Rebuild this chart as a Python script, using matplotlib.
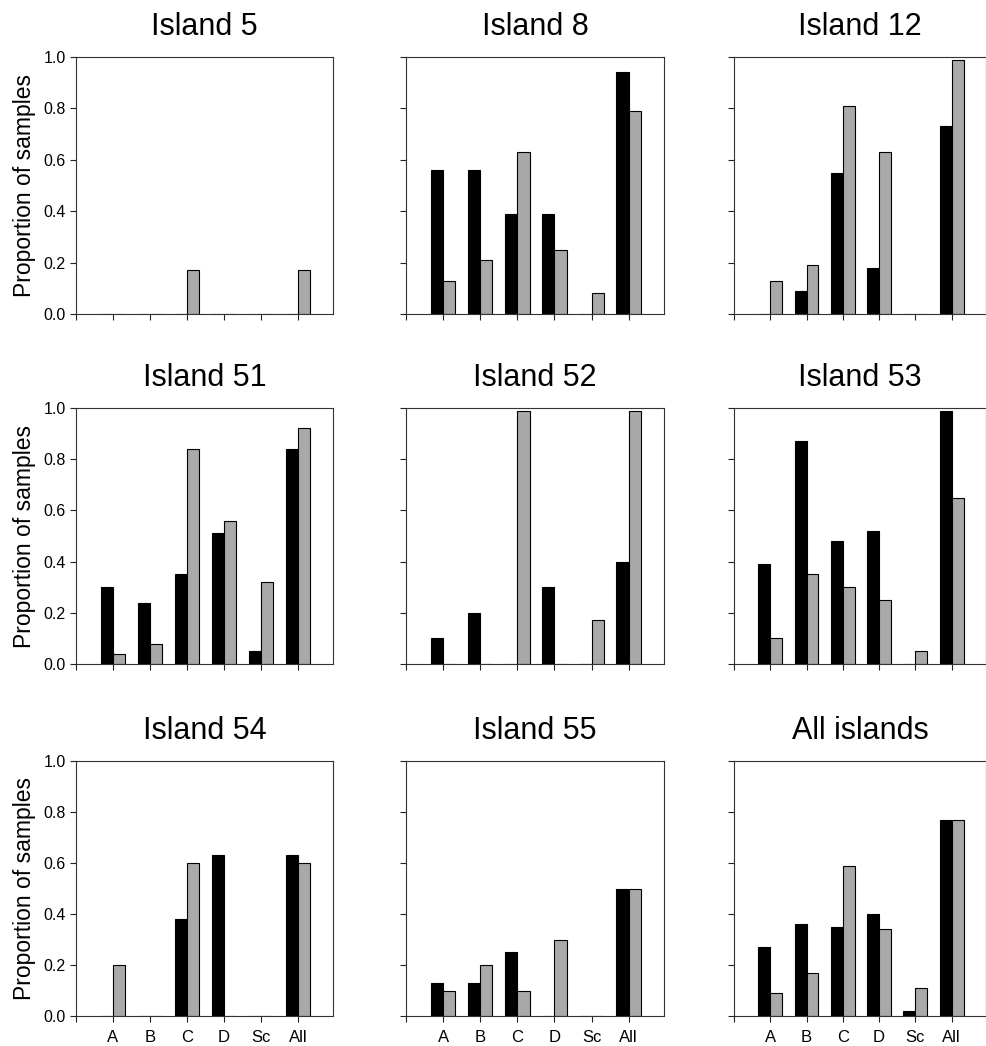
import numpy as np
import matplotlib
matplotlib.use('Agg')
from matplotlib import pyplot as plt

plt.rcParams['font.family'] = ['Liberation Sans', 'DejaVu Sans']

# categories along x
categories = ['A', 'B', 'C', 'D', 'Sc', 'All']

titles = ['Island 5', 'Island 8', 'Island 12',
          'Island 51', 'Island 52', 'Island 53',
          'Island 54', 'Island 55', 'All islands']

# black bars
black_5 = [0, 0, 0, 0, 0, 0]
black_8 = [0.56, 0.56, 0.39, 0.39, 0, 0.94]
black_12 = [0, 0.09, 0.55, 0.18, 0, 0.73]
black_51 = [0.30, 0.24, 0.35, 0.51, 0.05, 0.84]
black_52 = [0.10, 0.20, 0, 0.30, 0, 0.40]
black_53 = [0.39, 0.87, 0.48, 0.52, 0, 0.99]
black_54 = [0, 0, 0.38, 0.63, 0, 0.63]
black_55 = [0.13, 0.13, 0.25, 0, 0, 0.50]
black_all = [0.27, 0.36, 0.35, 0.40, 0.02, 0.77]

# grey (stippled) bars
grey_5 = [0, 0, 0.17, 0, 0, 0.17]
grey_8 = [0.13, 0.21, 0.63, 0.25, 0.08, 0.79]
grey_12 = [0.13, 0.19, 0.81, 0.63, 0, 0.99]
grey_51 = [0.04, 0.08, 0.84, 0.56, 0.32, 0.92]
grey_52 = [0, 0, 0.99, 0, 0.17, 0.99]
grey_53 = [0.10, 0.35, 0.30, 0.25, 0.05, 0.65]
grey_54 = [0.20, 0, 0.60, 0, 0, 0.60]
grey_55 = [0.10, 0.20, 0.10, 0.30, 0, 0.50]
grey_all = [0.09, 0.17, 0.59, 0.34, 0.11, 0.77]

black_sets = [black_5, black_8, black_12, black_51, black_52, black_53,
              black_54, black_55, black_all]
grey_sets = [grey_5, grey_8, grey_12, grey_51, grey_52, grey_53,
             grey_54, grey_55, grey_all]

W, H = 987, 1046
fig = plt.figure(figsize=(W / 100, H / 100), dpi=100)

# panel boxes in pixels: left, right / top, bottom
col_lr = [(76, 333), (406, 664), (734, 986)]
row_tb = [(57, 314), (408, 664), (761, 1016)]

x = np.arange(1, len(categories) + 1)
bw = 0.33

for i in range(9):
    r, c = divmod(i, 3)
    l, rr = col_lr[c]
    t, b = row_tb[r]
    ax = fig.add_axes([l / W, (H - b) / H, (rr - l) / W, (b - t) / H])

    ax.bar(x - bw / 2, black_sets[i], width=bw, color='black',
           edgecolor='black', linewidth=0.8)
    ax.bar(x + bw / 2, grey_sets[i], width=bw, color='#a9a9a9',
           edgecolor='black', linewidth=0.8)

    ax.set_xlim(0, 6.95)
    ax.set_ylim(0, 1.0)
    ax.set_xticks(np.arange(0, 7))
    ax.set_yticks(np.arange(0, 1.01, 0.2))
    ax.tick_params(direction='out', length=4, width=0.8, colors='#222222',
                   labelcolor='black')
    ax.tick_params(axis='x', pad=6)
    for s in ax.spines.values():
        s.set_linewidth(0.8)
        s.set_color('#333333')

    if r == 2:
        ax.set_xticklabels([''] + categories, fontsize=12)
    else:
        ax.set_xticklabels([])
    if c == 0:
        ax.set_yticklabels(['%.1f' % v for v in np.arange(0, 1.01, 0.2)], fontsize=11.5)
        ax.set_ylabel('Proportion of samples', fontsize=16.5, labelpad=5)
    else:
        ax.set_yticklabels([])

    ax.set_title(titles[i], fontsize=22, pad=16)

fig.savefig('out.png', dpi=100)
